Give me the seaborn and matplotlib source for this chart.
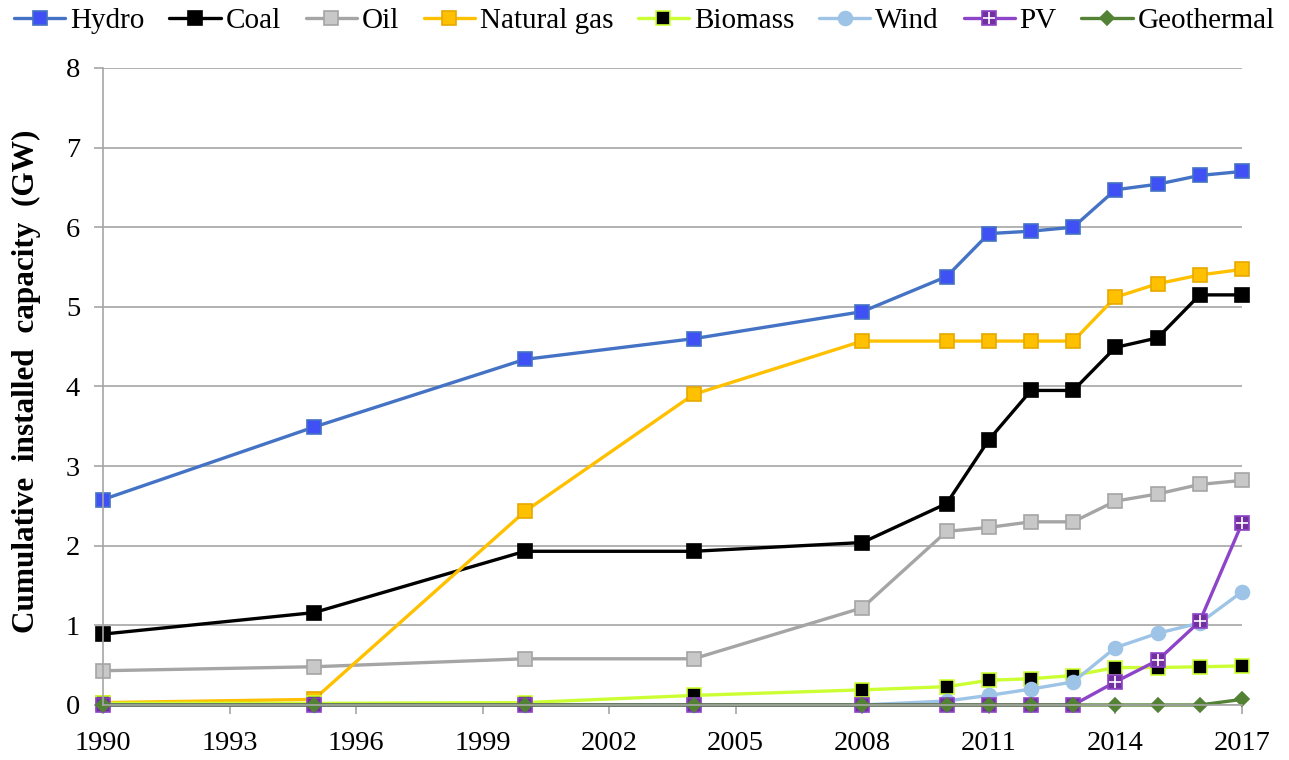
import matplotlib
matplotlib.use("Agg")
import matplotlib.pyplot as plt
import seaborn as sns
from matplotlib.legend_handler import HandlerTuple

# Years with data points
years = [1990, 1995, 2000, 2004, 2008, 2010, 2011, 2012, 2013, 2014, 2015, 2016, 2017]

# Cumulative installed capacity (GW)
hydro = [2.58, 3.49, 4.34, 4.60, 4.94, 5.38, 5.92, 5.95, 6.00, 6.47, 6.54, 6.65, 6.70]
coal = [0.89, 1.16, 1.93, 1.93, 2.04, 2.53, 3.33, 3.95, 3.95, 4.49, 4.61, 5.15, 5.15]
oil = [0.43, 0.48, 0.58, 0.58, 1.22, 2.18, 2.23, 2.30, 2.30, 2.56, 2.65, 2.77, 2.82]
natural_gas = [0.03, 0.07, 2.43, 3.90, 4.57, 4.57, 4.57, 4.57, 4.57, 5.12, 5.29, 5.40, 5.47]
biomass = [0.02, 0.02, 0.03, 0.12, 0.19, 0.23, 0.31, 0.33, 0.37, 0.47, 0.47, 0.48, 0.49]
wind = [0.0, 0.0, 0.0, 0.0, 0.0, 0.05, 0.12, 0.20, 0.29, 0.72, 0.90, 1.03, 1.42]
pv = [0.0, 0.0, 0.0, 0.0, 0.0, 0.0, 0.0, 0.0, 0.0, 0.29, 0.56, 1.05, 2.28]
geothermal = [0.0, 0.0, 0.0, 0.0, 0.0, 0.0, 0.0, 0.0, 0.0, 0.0, 0.0, 0.0, 0.07]

sns.set_theme(style="white")
plt.rcParams['font.family'] = ['Liberation Serif', 'DejaVu Serif']
plt.rcParams['text.color'] = 'black'

fig = plt.figure(figsize=(12.89, 7.6), dpi=100)
ax = fig.add_axes([0.0799, 0.0724, 0.8836, 0.8382])

# name, values, line colour, marker, face colour, edge colour
series = [
    ("Hydro", hydro, "#4472C4", "s", "#3F51F5", "#4472C4"),
    ("Coal", coal, "#000000", "s", "#000000", "#000000"),
    ("Oil", oil, "#A5A5A5", "s", "#C8C8C8", "#A5A5A5"),
    ("Natural gas", natural_gas, "#FFC000", "s", "#FFC000", "#E6A800"),
    ("Biomass", biomass, "#CCFF33", "s", "#000000", "#CCFF33"),
    ("Wind", wind, "#9DC3E6", "o", "#9DC3E6", "#9DC3E6"),
    ("PV", pv, "#8E44C8", "s", "#7030A0", "#8E44C8"),
    ("Geothermal", geothermal, "#548235", "D", "#548235", "#548235"),
]

handles = []
for name, vals, col, mk, fc, ec in series:
    ms = 7 if mk == "D" else 10
    sns.lineplot(x=years, y=vals, ax=ax, color=col, linewidth=2.4, marker=mk,
                 markersize=ms, markerfacecolor=fc, markeredgecolor=ec,
                 markeredgewidth=1.2, label=name, legend=False, clip_on=False)
    h = ax.get_lines()[-1]
    if name == "PV":
        # plus sign inside the PV squares
        sns.lineplot(x=years, y=vals, ax=ax, color="#A05CD8", linewidth=0,
                     marker="+", markersize=9, markeredgewidth=1.2, legend=False,
                     clip_on=False)
        h = (h, ax.get_lines()[-1])
    handles.append(h)

ax.set_xlim(1990, 2017)
ax.set_ylim(0, 8)
ax.set_xticks(range(1990, 2018, 3))
ax.set_yticks(range(0, 9))
ax.yaxis.grid(True, color="#A6A6A6", linewidth=1.2)
ax.xaxis.grid(False)
ax.set_axisbelow(True)
for side in ["top", "right"]:
    ax.spines[side].set_visible(False)
for side in ["left", "bottom"]:
    ax.spines[side].set_color("#A6A6A6")
    ax.spines[side].set_linewidth(1.2)
ax.tick_params(axis="both", direction="out", length=6.5, width=1.2, color="#A6A6A6",
               labelsize=20.5, labelcolor="black", bottom=True, left=True)
ax.tick_params(axis="y", pad=10)
ax.tick_params(axis="x", pad=12)
ax.set_xlabel("")
ax.set_ylabel("Cumulative  installed  capacity  (GW)", fontsize=22.5, fontweight="bold",
              color="black")
ax.yaxis.set_label_coords(-0.0545, 0.508)

fig.legend(handles, [s[0] for s in series], loc="center", ncol=8,
           bbox_to_anchor=(0.50, 1 - 21 / 760), frameon=False, fontsize=21,
           handlelength=1.75, handletextpad=0.17, columnspacing=0.85,
           borderaxespad=0, borderpad=0, labelcolor="black",
           handler_map={tuple: HandlerTuple(ndivide=1, pad=0)})

fig.savefig("out.png", dpi=100)
